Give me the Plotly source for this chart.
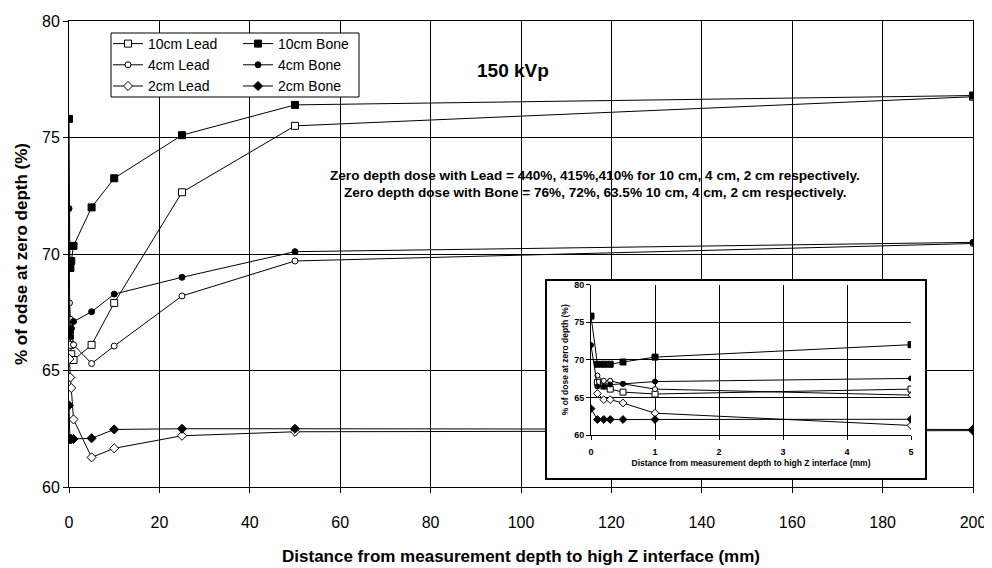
import plotly.graph_objects as go

# ---------------- data ----------------
x_lead = [0.1, 0.2, 0.3, 0.5, 1, 5, 10, 25, 50, 200]
x_bone = [0, 0.1, 0.2, 0.3, 0.5, 1, 5, 10, 25, 50, 200]

lead_10cm = [67.0, 66.5, 66.1, 65.7, 65.45, 66.1, 67.9, 72.65, 75.5, 76.75]
lead_4cm = [67.9, 67.2, 67.2, 66.8, 66.1, 65.3, 66.05, 68.2, 69.7, 70.45]
lead_2cm = [65.5, 64.7, 64.7, 64.25, 62.9, 61.27, 61.66, 62.2, 62.37, 62.42]

bone_10cm = [75.8, 69.4, 69.4, 69.4, 69.7, 70.35, 72.0, 73.25, 75.1, 76.4, 76.8]
bone_4cm = [71.95, 66.45, 66.45, 66.7, 66.8, 67.1, 67.52, 68.28, 69.0, 70.1, 70.5]
bone_2cm = [63.5, 62.06, 62.06, 62.06, 62.06, 62.06, 62.09, 62.47, 62.5, 62.5, 62.47]

series_names = ["10cm Lead", "4cm Lead", "2cm Lead", "10cm Bone", "4cm Bone", "2cm Bone"]
series_x = [x_lead, x_lead, x_lead, x_bone, x_bone, x_bone]
series_y = [lead_10cm, lead_4cm, lead_2cm, bone_10cm, bone_4cm, bone_2cm]

x_ticks_main = [0, 20, 40, 60, 80, 100, 120, 140, 160, 180, 200]
y_ticks_main = [60, 65, 70, 75, 80]
x_ticks_inset = [0, 1, 2, 3, 4, 5]
inset_max_x = 5

title_150 = "150 kVp"
note_lead = "Zero depth dose with Lead = 440%, 415%,410% for 10 cm, 4 cm, 2 cm respectively."
note_bone = "Zero depth dose with Bone = 76%, 72%, 63.5% 10 cm, 4 cm, 2 cm respectively."

# ---------------- styles ----------------
symbols = ["square", "circle", "diamond", "square", "circle", "diamond"]
filled = [False, False, False, True, True, True]
sizes_main = [7, 6, 7, 7, 6, 7]
sizes_inset = [6, 5, 6, 6, 5, 6]
legends = ["legend", "legend", "legend", "legend2", "legend2", "legend2"]

FONT = "Arial, Liberation Sans, sans-serif"

fig = go.Figure()

for i, name in enumerate(series_names):
    fig.add_trace(go.Scatter(
        x=series_x[i], y=series_y[i], name=name, mode="lines+markers",
        line=dict(color="black", width=1),
        marker=dict(symbol=symbols[i], size=sizes_main[i],
                    color="black" if filled[i] else "white",
                    line=dict(color="black", width=1)),
        legend=legends[i], xaxis="x", yaxis="y",
    ))

# cover box for inset (empty subplot)
fig.add_trace(go.Scatter(x=[], y=[], xaxis="x2", yaxis="y2", showlegend=False, hoverinfo="skip"))

for i, name in enumerate(series_names):
    xs = [x for x in series_x[i] if x <= inset_max_x]
    ys = [y for x, y in zip(series_x[i], series_y[i]) if x <= inset_max_x]
    fig.add_trace(go.Scatter(
        x=xs, y=ys, name=name, mode="lines+markers", showlegend=False,
        line=dict(color="black", width=1),
        marker=dict(symbol=symbols[i], size=sizes_inset[i],
                    color="black" if filled[i] else "white",
                    line=dict(color="black", width=1)),
        xaxis="x3", yaxis="y3",
    ))

# page is offset by the 8px default body margin
OFF = 8
W, H = 992 - OFF, 568 - OFF
PX0, PX1, PY0, PY1 = 69, 973, 21, 487   # plot area in page pixels
L, T = PX0 - OFF, PY0 - OFF
R, B = W - (PX1 - OFF), H - (PY1 - OFF)
PW, PH = PX1 - PX0, PY1 - PY0


def px(xp):
    return (xp - PX0) / PW


def py(yp):
    return (PY1 - yp) / PH


fig.update_layout(
    width=W, height=H,
    margin=dict(l=L, r=R, t=T, b=B, autoexpand=False),
    paper_bgcolor="white", plot_bgcolor="white",
    font=dict(family=FONT, color="black"),
    xaxis=dict(
        range=[0, 200], tickvals=x_ticks_main, showgrid=True, gridcolor="black", gridwidth=1,
        zeroline=False, showline=True, linecolor="black", linewidth=1, mirror=True,
        ticks="outside", ticklen=5, tickcolor="black", tickfont=dict(size=16),
        ticklabelstandoff=16,
        title=dict(text="<b>Distance from measurement depth to high Z interface (mm)</b>",
                   font=dict(size=17), standoff=19),
    ),
    yaxis=dict(
        range=[60, 80], tickvals=y_ticks_main, showgrid=True, gridcolor="black", gridwidth=1,
        zeroline=False, showline=True, linecolor="black", linewidth=1, mirror=True,
        ticks="outside", ticklen=5, tickcolor="black", tickfont=dict(size=16),
        title=dict(text="<b>% of odse at zero depth (%)</b>", font=dict(size=17), standoff=10),
    ),
    xaxis2=dict(domain=[px(547), px(925)], range=[0, 1], anchor="y2", showgrid=False,
                zeroline=False, showticklabels=False, ticks="", showline=True,
                linecolor="black", linewidth=2, mirror=True, fixedrange=True),
    yaxis2=dict(domain=[py(478), py(281)], range=[0, 1], anchor="x2", showgrid=False,
                zeroline=False, showticklabels=False, ticks="", showline=True,
                linecolor="black", linewidth=2, mirror=True, fixedrange=True),
    xaxis3=dict(
        domain=[px(591), px(911)], range=[0, 5], tickvals=x_ticks_inset, anchor="y3",
        showgrid=True, gridcolor="black", gridwidth=1, zeroline=False,
        showline=True, linecolor="black", linewidth=1,
        ticks="outside", ticklen=4, tickcolor="black",
        tickfont=dict(size=9, weight="bold"), ticklabelstandoff=4,
        title=dict(text="<b>Distance from measurement depth to high Z interface (mm)</b>",
                   font=dict(size=8.5), standoff=4),
    ),
    yaxis3=dict(
        domain=[py(435), py(284.5)], range=[60, 80], tickvals=y_ticks_main, anchor="x3",
        showgrid=True, gridcolor="black", gridwidth=1, zeroline=False,
        showline=True, linecolor="black", linewidth=1,
        ticks="outside", ticklen=4, tickcolor="black",
        tickfont=dict(size=9, weight="bold"),
        title=dict(text="<b>% of dose at zero depth (%)</b>", font=dict(size=8.5), standoff=4),
    ),
    legend=dict(x=px(108), y=py(28), xanchor="left", yanchor="top",
                bgcolor="rgba(0,0,0,0)", borderwidth=0, font=dict(size=14),
                itemwidth=30, tracegroupgap=0),
    legend2=dict(x=px(238), y=py(28), xanchor="left", yanchor="top",
                 bgcolor="rgba(0,0,0,0)", borderwidth=0, font=dict(size=14),
                 itemwidth=30, tracegroupgap=0),
    shapes=[
        dict(type="rect", xref="paper", yref="paper",
             x0=px(111), x1=px(359), y0=py(97), y1=py(33),
             fillcolor="white", line=dict(color="black", width=1), layer="above"),
    ],
    annotations=[
        dict(text="<b>" + title_150 + "</b>", xref="paper", yref="paper",
             x=px(513), y=py(58), showarrow=False, font=dict(size=19)),
        dict(text="<b>" + note_lead + "</b>", xref="paper", yref="paper",
             x=px(595), y=py(166), showarrow=False, font=dict(size=13.6)),
        dict(text="<b>" + note_bone + "</b>", xref="paper", yref="paper",
             x=px(595), y=py(192), showarrow=False, font=dict(size=13.6)),
    ],
)

fig.write_html("out.html")
